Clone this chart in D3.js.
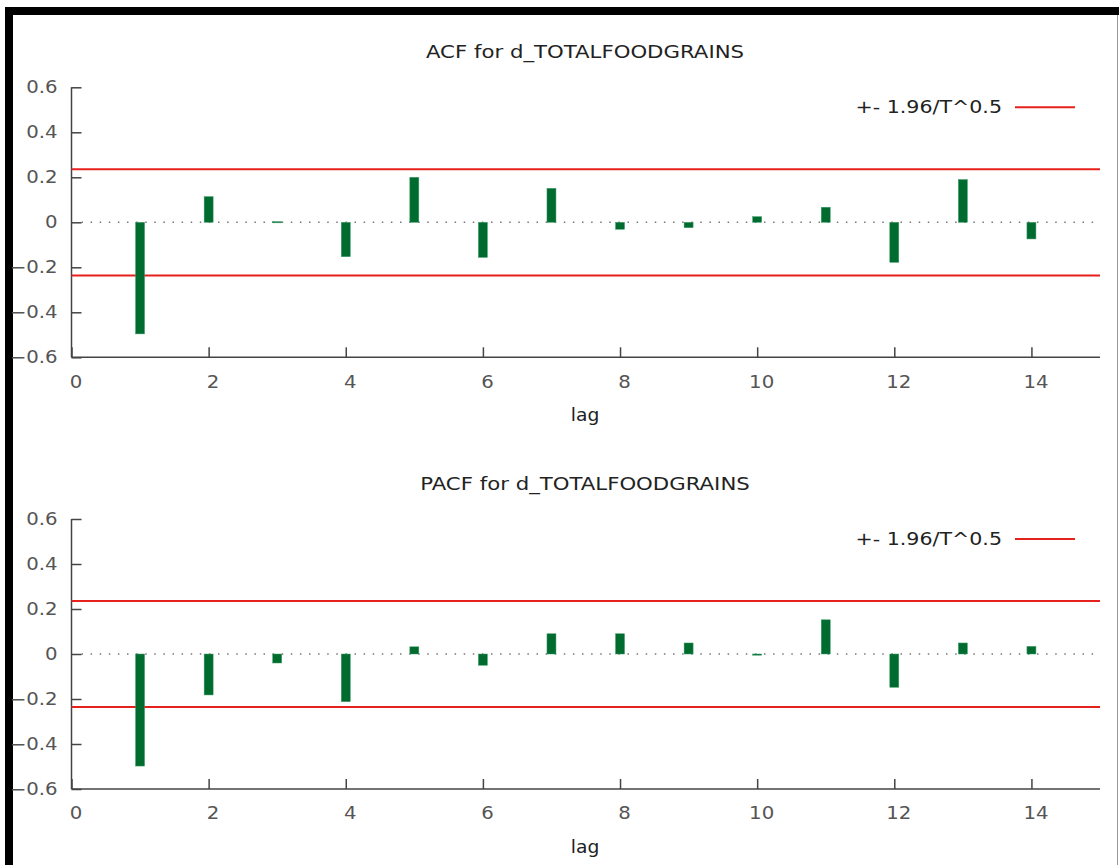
<!DOCTYPE html>
<html>
<head>
<meta charset="utf-8">
<script src="https://cdn.jsdelivr.net/npm/d3@7"></script>
<style>
  body { margin: 0; background: #fff; }
  svg text { font-family: "DejaVu Sans", Verdana, sans-serif; }
</style>
</head>
<body>
<div id="chart"></div>
<script>
// lags and correlations
var lags = [1, 2, 3, 4, 5, 6, 7, 8, 9, 10, 11, 12, 13, 14];
var acfVals = [-0.496, 0.114, 0.003, -0.153, 0.200, -0.156, 0.151, -0.031, -0.024, 0.025, 0.067, -0.178, 0.190, -0.074];
var pacfVals = [-0.498, -0.182, -0.040, -0.212, 0.032, -0.050, 0.090, 0.090, 0.049, -0.003, 0.152, -0.148, 0.049, 0.034];
var band = 0.236;   // +- 1.96/T^0.5
var yTicks = [-0.6, -0.4, -0.2, 0, 0.2, 0.4, 0.6];
var xTicks = [0, 2, 4, 6, 8, 10, 12, 14];
var titles = ["ACF for d_TOTALFOODGRAINS", "PACF for d_TOTALFOODGRAINS"];
var legendLabel = "+- 1.96/T^0.5";

var W = 1119, H = 865;

var svg = d3.select("#chart").append("svg")
    .attr("width", W).attr("height", H);

// frame
svg.append("rect").attr("x", 5).attr("y", 7).attr("width", W - 5).attr("height", 8).attr("fill", "#000");
svg.append("rect").attr("x", 5).attr("y", 7).attr("width", 8).attr("height", H - 7).attr("fill", "#000");
svg.append("line").attr("x1", 1117.5).attr("x2", 1117.5).attr("y1", 15).attr("y2", H)
    .attr("stroke", "#999").attr("stroke-width", 1);

var x = d3.scaleLinear().domain([0, 15]).range([71.5, 1100]);

// the picture's font is wider than DejaVu, stretch glyphs horizontally
// anchor: 0 = start, 0.5 = middle, 1 = end (done by hand so the stretch doesn't shift it)
function widen(sel, k, anchor, x0) {
    sel.each(function() {
        var t = d3.select(this);
        var len = this.getComputedTextLength() * k;
        t.attr("text-anchor", "start")
         .attr("x", x0 - len * anchor)
         .attr("textLength", len).attr("lengthAdjust", "spacingAndGlyphs");
    });
}

function panel(top, title, vals) {
    var y = d3.scaleLinear().domain([-0.6, 0.6]).range([top + 270, top]);
    var g = svg.append("g");

    g.append("text")
        .attr("y", top - 29)
        .attr("fill", "#222")
        .style("font-size", "17px")
        .text(title)
        .call(widen, 1.25, 0.5, 585);

    // zero line
    g.append("line")
        .attr("x1", x(0) + 10).attr("x2", x(15))
        .attr("y1", y(0)).attr("y2", y(0))
        .attr("stroke", "#777").attr("stroke-width", 1.5)
        .attr("stroke-dasharray", "1.5,7.6");

    // axes, gnuplot style inward ticks
    var yax = g.append("g")
        .attr("transform", "translate(" + x(0) + ",0)")
        .call(d3.axisLeft(y).tickValues(yTicks).tickSize(-10)
            .tickFormat(function(d) { return d === 0 ? "0" : d3.format(".1f")(d); }));
    var xax = g.append("g")
        .attr("transform", "translate(0," + y(-0.6) + ")")
        .call(d3.axisBottom(x).tickValues(xTicks).tickSize(-10).tickPadding(18));

    [yax, xax].forEach(function(a) {
        a.select(".domain").attr("stroke", "#444").attr("stroke-width", 1.5);
        a.selectAll(".tick line").attr("stroke", "#444").attr("stroke-width", 1.5);
        a.selectAll(".tick text").attr("fill", "#555").style("font-size", "17px")
            .style("font-family", "DejaVu Sans, Verdana, sans-serif");
    });
    yax.selectAll(".tick text").call(widen, 1.16, 1, -14);
    xax.selectAll(".tick text").attr("dy", "0.72em").call(widen, 1.16, 0.5, 4);
    yax.select(".domain").attr("d", "M0," + y(0.6) + "V" + y(-0.6));
    xax.select(".domain").attr("d", "M" + x(0) + ",0H" + x(15));

    // confidence band
    [band, -band].forEach(function(b) {
        g.append("line")
            .attr("x1", x(0)).attr("x2", x(15))
            .attr("y1", y(b)).attr("y2", y(b))
            .attr("stroke", "#e5211d").attr("stroke-width", 2);
    });

    // bars
    g.selectAll("rect.bar")
        .data(vals)
        .enter()
        .append("rect")
        .attr("class", "bar")
        .attr("x", function(d, i) { return x(lags[i]) - 4.5; })
        .attr("y", function(d) { return y(Math.max(d, 0)); })
        .attr("width", 9)
        .attr("height", function(d) { return Math.max(Math.abs(y(d) - y(0)), 1.2); })
        .attr("fill", "#006b2f")
        .attr("stroke", "#3f9e6a").attr("stroke-width", 0.5);

    // legend
    g.append("text")
        .attr("y", top + 26)
        .attr("fill", "#222")
        .style("font-size", "17px")
        .text(legendLabel)
        .call(widen, 1.21, 1, 1002);
    g.append("line")
        .attr("x1", 1015).attr("x2", 1075)
        .attr("y1", top + 20).attr("y2", top + 20)
        .attr("stroke", "#e5211d").attr("stroke-width", 2);

    g.append("text")
        .attr("y", top + 334)
        .attr("fill", "#222")
        .style("font-size", "17px")
        .text("lag")
        .call(widen, 1.1, 0.5, 585);
}

panel(87.3, titles[0], acfVals);
panel(519, titles[1], pacfVals);
</script>
</body>
</html>
